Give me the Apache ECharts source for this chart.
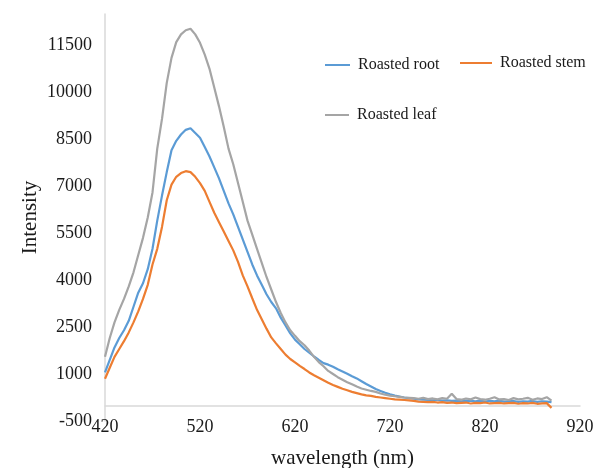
<!DOCTYPE html>
<html><head><meta charset="utf-8">
<script src="https://cdn.jsdelivr.net/npm/echarts@6/dist/echarts.min.js"></script>
<style>html,body{margin:0;padding:0;background:#fff}#c{width:594px;height:468px}</style>
</head><body><div id="c"></div>
<script>
const wavelengths = [420,425,430,435,440,445,450,455,460,465,470,475,480,485,490,495,500,505,510,515,520,525,530,535,540,545,550,555,560,565,570,575,580,585,590,595,600,605,610,615,620,625,630,635,640,645,650,655,660,665,670,675,680,685,690,695,700,705,710,715,720,725,730,735,740,745,750,755,760,765,770,775,780,785,790,795,800,805,810,815,820,825,830,835,840,845,850,855,860,865,870,875,880,885,890];
const rootValues = [1050,1450,1850,2150,2400,2700,3150,3600,3900,4350,5000,5900,6700,7450,8150,8450,8650,8800,8850,8700,8550,8250,7950,7600,7250,6850,6450,6100,5700,5300,4900,4500,4150,3850,3550,3300,3100,2800,2550,2300,2100,1950,1800,1680,1560,1450,1350,1300,1230,1150,1080,1010,930,860,770,680,600,520,460,400,350,310,280,250,230,210,190,180,170,160,170,150,160,140,150,130,150,140,130,150,120,140,130,150,120,130,140,110,130,120,140,110,130,120,100];
const stemValues = [850,1200,1550,1800,2050,2330,2650,3000,3400,3850,4500,5000,5700,6550,7050,7300,7420,7480,7450,7300,7100,6850,6500,6150,5850,5550,5250,4950,4580,4150,3800,3420,3050,2750,2450,2170,1980,1800,1620,1480,1370,1260,1160,1050,960,880,800,720,650,590,530,480,430,390,350,320,300,270,250,230,210,190,180,170,160,140,120,110,100,110,90,100,80,90,70,80,90,60,80,70,90,60,70,80,60,70,80,50,70,60,80,50,60,70,-80];
const leafValues = [1550,2150,2650,3050,3400,3800,4250,4800,5350,6000,6800,8200,9150,10300,11100,11600,11850,11980,12030,11850,11580,11200,10750,10150,9550,8900,8200,7700,7100,6500,5900,5450,5000,4550,4100,3700,3300,2950,2650,2400,2220,2050,1920,1750,1550,1380,1250,1100,1000,900,820,740,670,600,540,500,460,430,380,340,310,290,270,250,240,230,210,240,200,220,190,230,210,370,200,180,220,190,250,200,180,210,260,190,200,170,230,190,210,240,180,220,200,260,150];
const seriesNames = ['Roasted root','Roasted stem','Roasted leaf'];
const seriesColors = ['#5B9BD5','#ED7D31','#A5A5A5'];
const xTickLabels = [420,520,620,720,820,920];
const yTickLabels = [-500,1000,2500,4000,5500,7000,8500,10000,11500];
const yTop = 12500;

const font = 'Liberation Serif';
const chart = echarts.init(document.getElementById('c'));
const allValues = [rootValues, stemValues, leafValues];
const legendText = {fontFamily: font, fontSize: 16, color: '#1a1a1a', padding: [0,0,0,3]};
const legendBase = {icon: 'rect', itemHeight: 2, textStyle: legendText};
chart.setOption({
  animation: false,
  grid: {left: 105, right: 14, top: 14, bottom: 47, outerBoundsMode: 'none', containLabel: false},
  legend: [
    Object.assign({data: [seriesNames[0]], left: 320, top: 52, itemWidth: 25}, legendBase),
    Object.assign({data: [seriesNames[1]], left: 455, top: 50, itemWidth: 32}, legendBase),
    Object.assign({data: [seriesNames[2]], left: 320, top: 102, itemWidth: 24}, legendBase)
  ],
  xAxis: {
    type: 'value', min: xTickLabels[0], max: xTickLabels[xTickLabels.length-1],
    interval: xTickLabels[1]-xTickLabels[0],
    axisLine: {show: true, onZero: true, lineStyle: {color: '#d9d9d9', width: 1.5}},
    axisTick: {show: false}, splitLine: {show: false},
    axisLabel: {margin: -3, fontFamily: font, fontSize: 18, color: '#1a1a1a', formatter: v => String(v)},
    name: 'wavelength (nm)', nameLocation: 'middle', nameGap: 27,
    nameTextStyle: {fontFamily: font, fontSize: 21, color: '#1a1a1a'}
  },
  yAxis: {
    type: 'value', min: yTickLabels[0], max: yTop,
    interval: yTickLabels[1]-yTickLabels[0],
    axisLine: {show: true, lineStyle: {color: '#d9d9d9', width: 1.5}},
    axisTick: {show: false}, splitLine: {show: false},
    axisLabel: {margin: 13, fontFamily: font, fontSize: 18, color: '#1a1a1a', showMaxLabel: false, formatter: v => String(v)},
    name: 'Intensity', nameLocation: 'middle', nameGap: 64, nameMoveOverlap: false,
    nameTextStyle: {fontFamily: font, fontSize: 21, color: '#1a1a1a'}
  },
  series: seriesNames.map((n, k) => ({
    name: n, type: 'line', symbol: 'none', showSymbol: false,
    color: seriesColors[k],
    lineStyle: {width: 2.2, color: seriesColors[k]},
    data: wavelengths.map((w, i) => [w, allValues[k][i]])
  }))
});
</script></body></html>
